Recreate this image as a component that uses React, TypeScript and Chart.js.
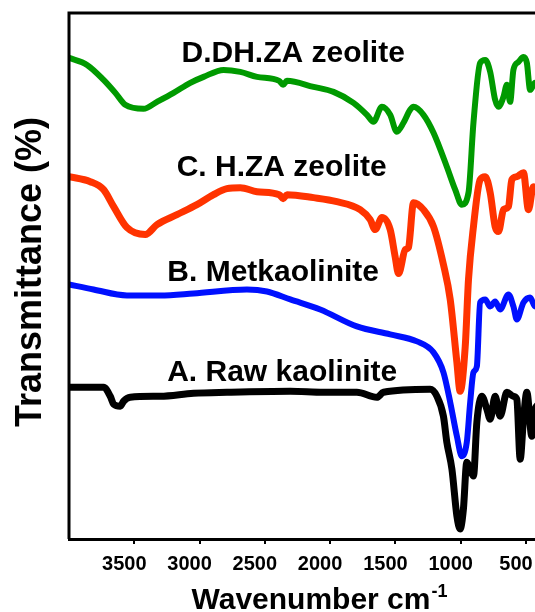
import React, { useEffect, useRef } from "react";
import { Chart, registerables } from "chart.js";

Chart.register(...registerables);

// ---------- data (wavenumber, cm-1) ----------
const tickValues = [3500, 3000, 2500, 2000, 1500, 1000, 500];

const wnD = [4000, 3862, 3735, 3645, 3569, 3429, 3326, 3199, 3071, 2969, 2816, 2688, 2560, 2390, 2360, 2331, 2127, 1974, 1821, 1718, 1668, 1603, 1540, 1489, 1438, 1387, 1361, 1285, 1208, 1106, 1042, 991, 940, 902, 851, 812, 774, 736, 710, 672, 646, 621, 596, 557, 519, 493, 468, 430, 400];
const tD = [482, 475, 460, 447, 435, 431, 438, 447, 457, 463, 470, 468, 463, 459, 455, 459, 453, 448, 437, 425, 418, 433, 425, 408, 417, 430, 433, 425, 407, 373, 350, 335, 347, 417, 477, 480, 468, 440, 433, 443, 455, 438, 470, 478, 483, 477, 450, 457, 455];

const wnC = [4000, 3837, 3735, 3658, 3556, 3416, 3326, 3173, 3020, 2893, 2790, 2688, 2560, 2390, 2360, 2330, 2127, 1948, 1770, 1693, 1655, 1603, 1540, 1502, 1476, 1424, 1400, 1361, 1285, 1208, 1132, 1080, 1029, 1004, 965, 940, 902, 851, 812, 774, 736, 710, 672, 634, 608, 570, 519, 481, 443, 400];
const tC = [363, 358, 350, 333, 312, 305, 315, 325, 335, 345, 351, 352, 348, 345, 341, 345, 342, 338, 330, 320, 310, 322, 310, 283, 266, 290, 292, 337, 330, 313, 275, 240, 177, 148, 193, 260, 313, 360, 363, 347, 313, 308, 330, 333, 360, 363, 367, 330, 353, 350];

const wnB = [4000, 3812, 3556, 3301, 3046, 2637, 2484, 2305, 2076, 1795, 1540, 1335, 1208, 1132, 1080, 1029, 991, 953, 927, 902, 876, 851, 812, 774, 736, 698, 634, 596, 570, 519, 468, 430, 400];
const tB = [255, 250, 244, 244, 246, 250, 248, 240, 230, 213, 205, 198, 187, 167, 137, 103, 83, 97, 137, 167, 173, 237, 240, 233, 238, 230, 245, 233, 220, 237, 242, 233, 235];

const wnA = [4000, 3735, 3684, 3658, 3607, 3582, 3531, 3301, 3046, 2790, 2305, 2051, 1795, 1642, 1591, 1234, 1182, 1132, 1106, 1067, 1029, 1004, 979, 953, 927, 902, 876, 838, 799, 774, 736, 698, 646, 596, 570, 544, 519, 493, 455, 430, 400];
const tA = [152, 152, 143, 135, 133, 138, 142, 143, 146, 147, 148, 147, 147, 142, 147, 150, 143, 123, 97, 70, 23, 10, 30, 77, 70, 63, 117, 143, 130, 120, 143, 123, 147, 143, 140, 80, 120, 147, 103, 130, 135];

const seriesNames = ["D.DH.ZA zeolite", "C. H.ZA zeolite", "B. Metkaolinite", "A. Raw kaolinite"];
const seriesColors = ["#009a00", "#ff3300", "#0010ff", "#000000"];
// label anchors (wavenumber, transmittance) for each curve name
const labelWn = [2283, 2371, 2436, 2367];
const labelT = [478, 364, 258, 158];

const FONT = "Arial, 'Liberation Sans', Helvetica, sans-serif";

const toPts = (xs: number[], ys: number[]) => xs.map((x, i) => ({ x, y: ys[i] }));

export default function App() {
  const ref = useRef<HTMLCanvasElement>(null);

  useEffect(() => {
    const canvas = ref.current;
    if (!canvas) return;

    const framePlugin = {
      id: "frame",
      afterDraw(chart: any) {
        const { ctx, chartArea } = chart;
        const { left, top, bottom, right } = chartArea;
        ctx.save();
        ctx.strokeStyle = "#000";
        ctx.lineWidth = 3;
        ctx.beginPath();
        ctx.moveTo(left, bottom);
        ctx.lineTo(left, top);
        ctx.lineTo(right, top);
        ctx.lineTo(right, bottom);
        ctx.stroke();

        // curve names
        const xs = chart.scales.x;
        const ys = chart.scales.y;
        ctx.fillStyle = "#000";
        ctx.font = `bold 30px ${FONT}`;
        ctx.textAlign = "center";
        ctx.textBaseline = "alphabetic";
        seriesNames.forEach((name, i) => {
          ctx.fillText(name, xs.getPixelForValue(labelWn[i]), ys.getPixelForValue(labelT[i]));
        });

        // y title
        ctx.save();
        ctx.translate(31, (top + bottom) / 2 - 4);
        ctx.rotate(-Math.PI / 2);
        ctx.font = `bold 36px ${FONT}`;
        ctx.textAlign = "center";
        ctx.textBaseline = "middle";
        ctx.fillText("Transmittance (%)", 0, 0);
        ctx.restore();

        // x title with superscript
        const main = "Wavenumber cm";
        const sup = "-1";
        ctx.font = `bold 30px ${FONT}`;
        const wMain = ctx.measureText(main).width;
        ctx.font = `bold 18px ${FONT}`;
        const wSup = ctx.measureText(sup).width;
        const cx = 319;
        const x0 = cx - (wMain + wSup) / 2;
        const baseY = 609;
        ctx.textAlign = "left";
        ctx.font = `bold 30px ${FONT}`;
        ctx.fillText(main, x0, baseY);
        ctx.font = `bold 18px ${FONT}`;
        ctx.fillText(sup, x0 + wMain + 1, baseY - 12);
        ctx.restore();
      },
    };

    const chart = new Chart(canvas, {
      type: "line",
      data: {
        datasets: [
          { label: seriesNames[0], data: toPts(wnD, tD), borderColor: seriesColors[0], borderWidth: 6 },
          { label: seriesNames[1], data: toPts(wnC, tC), borderColor: seriesColors[1], borderWidth: 7 },
          { label: seriesNames[2], data: toPts(wnB, tB), borderColor: seriesColors[2], borderWidth: 6 },
          { label: seriesNames[3], data: toPts(wnA, tA), borderColor: seriesColors[3], borderWidth: 7 },
        ] as any,
      },
      options: {
        animation: false,
        responsive: false,
        parsing: false as any,
        elements: {
          point: { radius: 0 },
          line: { cubicInterpolationMode: "monotone", borderJoinStyle: "round", borderCapStyle: "round", fill: false },
        },
        layout: { padding: { left: 69, right: 21, top: 13, bottom: 28 } },
        plugins: {
          legend: { display: false },
          tooltip: { enabled: false },
        },
        scales: {
          x: {
            type: "linear",
            reverse: true,
            min: 400,
            max: 4000,
            afterBuildTicks: (scale: any) => {
              scale.ticks = tickValues.map((v) => ({ value: v }));
            },
            ticks: {
              color: "#000",
              font: { family: FONT, size: 20, weight: "bold" },
              padding: 8,
              labelOffset: -10,
              maxRotation: 0,
              autoSkip: false,
              callback: (v: any) => String(v),
            },
            grid: {
              display: true,
              drawOnChartArea: false,
              drawTicks: true,
              tickLength: 5,
              color: "#000",
              lineWidth: 2,
            },
            border: { display: true, color: "#000", width: 3 },
          },
          y: {
            display: false,
            min: 0,
            max: 527,
          },
        },
      },
      plugins: [framePlugin],
    });

    return () => chart.destroy();
  }, []);

  return (
    <div
      style={{
        position: "absolute",
        left: 0,
        top: 0,
        width: 535,
        height: 612,
        overflow: "hidden",
        background: "#fff",
      }}
    >
      <canvas ref={ref} width={560} height={612} style={{ display: "block" }} />
    </div>
  );
}
